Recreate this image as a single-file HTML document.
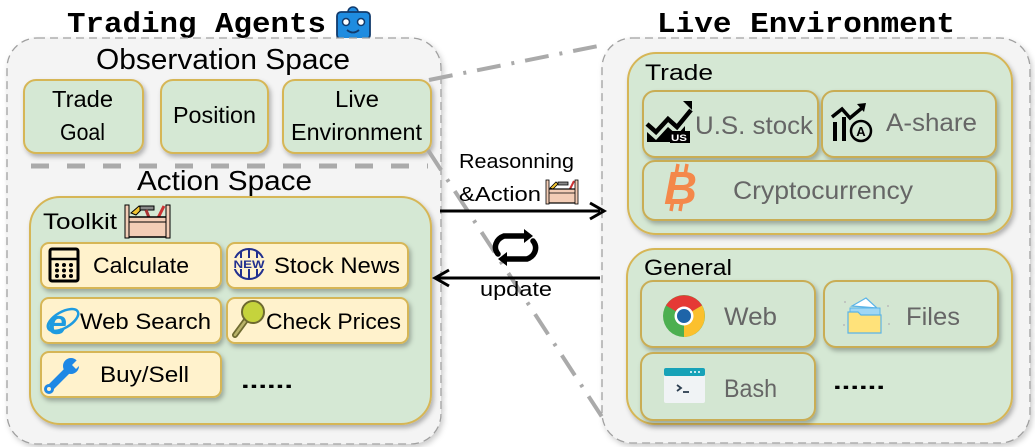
<!DOCTYPE html>
<html><head><meta charset="utf-8"><style>
html,body{margin:0;padding:0;background:#fff;}
svg{display:block;}
text{font-family:"Liberation Sans",sans-serif;}
.t{fill:#000;}
.g{fill:#666;}
.mono{font-family:"Liberation Mono",monospace;font-weight:bold;}
</style></head><body>
<svg width="1035" height="447" viewBox="0 0 1035 447" xmlns="http://www.w3.org/2000/svg">
<defs>
<filter id="sh" x="-10%" y="-10%" width="125%" height="125%">
<feDropShadow dx="2" dy="3" stdDeviation="2.5" flood-color="#000" flood-opacity="0.28"/>
</filter>
<filter id="sh2" x="-10%" y="-10%" width="125%" height="125%">
<feDropShadow dx="2" dy="3" stdDeviation="3" flood-color="#000" flood-opacity="0.2"/>
</filter>
</defs>

<!-- Titles -->
<text class="mono" x="67" y="32" font-size="29" textLength="259" lengthAdjust="spacingAndGlyphs">Trading Agents</text>
<text class="mono" x="657" y="32" font-size="29" textLength="298" lengthAdjust="spacingAndGlyphs">Live Environment</text>

<!-- robot -->
<g>
<path d="M348 12 a5 5 0 0 1 10 0" fill="#1f8ce0" stroke="#123a6b" stroke-width="1.5"/>
<rect x="337" y="12" width="33" height="27" rx="4" fill="#1f8ce0" stroke="#123a6b" stroke-width="1.8"/>
<circle cx="346" cy="22" r="3.5" fill="#fff" stroke="#123a6b" stroke-width="1.5"/>
<circle cx="361" cy="22" r="3.5" fill="#fff" stroke="#123a6b" stroke-width="1.5"/>
<path d="M347 30 q6 5 12 0" fill="none" stroke="#123a6b" stroke-width="1.8"/>
</g>

<!-- outer boxes -->
<rect x="7" y="38" width="434" height="406" rx="30" fill="#f4f4f4" stroke="#a0a0a0" stroke-width="1.3" stroke-dasharray="8 5" filter="url(#sh2)"/>
<rect x="602" y="38" width="428" height="405" rx="30" fill="#f4f4f4" stroke="#a0a0a0" stroke-width="1.3" stroke-dasharray="8 5" filter="url(#sh2)"/>

<!-- Observation Space -->
<text class="t" x="96" y="69" font-size="29" textLength="254" lengthAdjust="spacingAndGlyphs">Observation Space</text>

<rect x="24" y="80" width="119" height="73" rx="12" fill="#d5e8d4" stroke="#d6b656" stroke-width="2" filter="url(#sh)"/>
<rect x="161" y="80" width="107" height="73" rx="12" fill="#d5e8d4" stroke="#d6b656" stroke-width="2" filter="url(#sh)"/>
<rect x="283" y="80" width="148" height="73" rx="12" fill="#d5e8d4" stroke="#d6b656" stroke-width="2" filter="url(#sh)"/>
<text class="t" x="52" y="107" font-size="23" textLength="61" lengthAdjust="spacingAndGlyphs">Trade</text>
<text class="t" x="60" y="140" font-size="23" textLength="45" lengthAdjust="spacingAndGlyphs">Goal</text>
<text class="t" x="173" y="123" font-size="23" textLength="83" lengthAdjust="spacingAndGlyphs">Position</text>
<text class="t" x="335" y="107" font-size="23" textLength="44" lengthAdjust="spacingAndGlyphs">Live</text>
<text class="t" x="291" y="140" font-size="23" textLength="131" lengthAdjust="spacingAndGlyphs">Environment</text>

<!-- separator -->
<line x1="31" y1="166" x2="428" y2="166" stroke="#aaa" stroke-width="5" stroke-dasharray="18 18"/>

<text class="t" x="137" y="190" font-size="28" textLength="175" lengthAdjust="spacingAndGlyphs">Action Space</text>

<!-- Toolkit -->
<rect x="30" y="197" width="401" height="227" rx="30" fill="#d5e8d4" stroke="#d6b656" stroke-width="2" filter="url(#sh)"/>
<text class="t" x="43" y="229" font-size="22" textLength="74" lengthAdjust="spacingAndGlyphs">Toolkit</text>
<!-- toolbox icon -->
<g>
<path d="M131 213 l8 -7 l3 3 l-6 6 z" fill="#f2c533" stroke="#000" stroke-width="1"/>
<path d="M140 206 l14 0 l0 4 l-14 0z" fill="#888" stroke="#000" stroke-width="1"/>
<path d="M146 210 l4 10" stroke="#a33" stroke-width="3"/>
<path d="M158 218 l6 -12" stroke="#c33" stroke-width="3"/>
<rect x="126" y="217" width="43" height="20" fill="#f3cdb6" stroke="#000" stroke-width="1.5"/>
<line x1="126" y1="222" x2="169" y2="222" stroke="#000" stroke-width="1"/>
<rect x="125" y="205" width="4" height="33" fill="#f3cdb6" stroke="#000" stroke-width="1"/>
<rect x="166" y="205" width="4" height="33" fill="#f3cdb6" stroke="#000" stroke-width="1"/>
</g>

<!-- tool buttons -->
<g fill="#fff2cc" stroke="#d6b656" stroke-width="2" filter="url(#sh)">
<rect x="41" y="243" width="180" height="45" rx="8"/>
<rect x="227" y="243" width="181" height="45" rx="8"/>
<rect x="41" y="298" width="180" height="45" rx="8"/>
<rect x="227" y="298" width="181" height="45" rx="8"/>
<rect x="41" y="352" width="180" height="45" rx="8"/>
</g>
<text class="t" x="93" y="273" font-size="22" textLength="96" lengthAdjust="spacingAndGlyphs">Calculate</text>
<text class="t" x="274" y="273" font-size="22" textLength="126" lengthAdjust="spacingAndGlyphs">Stock News</text>
<text class="t" x="80" y="329" font-size="22" textLength="131" lengthAdjust="spacingAndGlyphs">Web Search</text>
<text class="t" x="266" y="329" font-size="22" textLength="135" lengthAdjust="spacingAndGlyphs">Check Prices</text>
<text class="t" x="100" y="382" font-size="22" textLength="89" lengthAdjust="spacingAndGlyphs">Buy/Sell</text>
<text class="t" x="241" y="388" font-size="22" font-weight="bold" textLength="52" lengthAdjust="spacingAndGlyphs">......</text>

<!-- calculator icon -->
<g>
<rect x="50" y="249" width="28" height="32" rx="2" fill="none" stroke="#000" stroke-width="3"/>
<line x1="50" y1="259" x2="78" y2="259" stroke="#000" stroke-width="2.5"/>
<g fill="#000">
<circle cx="57" cy="265" r="2"/><circle cx="64" cy="265" r="2"/><circle cx="71" cy="265" r="2"/>
<circle cx="57" cy="270.5" r="2"/><circle cx="64" cy="270.5" r="2"/><circle cx="71" cy="270.5" r="2"/>
<circle cx="57" cy="276" r="2"/><circle cx="64" cy="276" r="2"/><circle cx="71" cy="276" r="2"/>
</g>
</g>
<!-- NEW globe -->
<g>
<circle cx="249" cy="264" r="15" fill="none" stroke="#22308f" stroke-width="2"/>
<path d="M241 252 v24 M249 249 v30 M257 252 v24" stroke="#22308f" stroke-width="2"/>
<rect x="233" y="258" width="32" height="11" fill="#fff2cc"/>
<text x="249" y="268" font-size="11" font-weight="bold" fill="#22308f" text-anchor="middle" textLength="31" lengthAdjust="spacingAndGlyphs">NEW</text>
</g>
<!-- IE icon -->
<g>
<ellipse cx="63" cy="320" rx="17" ry="8" fill="none" stroke="#1e9be0" stroke-width="2.5" transform="rotate(-30 63 320)"/>
<text x="48" y="334" font-size="34" font-style="italic" fill="#1e9be0" font-weight="bold">e</text>
</g>
<!-- magnifier -->
<g>
<line x1="246" y1="320" x2="235" y2="335" stroke="#6e6a30" stroke-width="6" stroke-linecap="round"/>
<line x1="246" y1="320" x2="235" y2="335" stroke="#b9b36a" stroke-width="2.5" stroke-linecap="round"/>
<circle cx="253" cy="312" r="11" fill="#c5d33c" stroke="#6e6a30" stroke-width="2"/>
</g>
<!-- wrench -->
<g>
<line x1="50" y1="388" x2="70" y2="368" stroke="#1e88e5" stroke-width="7" stroke-linecap="round"/>
<circle cx="71" cy="366" r="8" fill="#1e88e5"/>
<path d="M72 365 l10 -10 l4 4 l-10 10z" fill="#fff2cc"/>
<circle cx="49" cy="389" r="5" fill="#1e88e5"/>
<circle cx="49" cy="389" r="2" fill="#fff2cc"/>
</g>

<!-- dash-dot connectors -->
<line x1="429" y1="80" x2="603" y2="45" stroke="#aaa" stroke-width="4" stroke-dasharray="24 11 3 11"/>
<line x1="428" y1="150" x2="604" y2="420" stroke="#aaa" stroke-width="4" stroke-dasharray="24 11 3 11"/>

<!-- arrows -->
<text class="t" x="459" y="168" font-size="20" textLength="115" lengthAdjust="spacingAndGlyphs">Reasonning</text>
<text class="t" x="459" y="201" font-size="20" textLength="82" lengthAdjust="spacingAndGlyphs">&amp;Action</text>
<g>
<path d="M550 188 l6 -6 l2 2 l-5 5z" fill="#f2c533" stroke="#000" stroke-width="0.8"/>
<path d="M558 182 h10 v3 h-10z" fill="#888" stroke="#000" stroke-width="0.8"/>
<path d="M570 189 l4 -8" stroke="#c33" stroke-width="2"/>
<rect x="547" y="189" width="30" height="14" fill="#f3cdb6" stroke="#000" stroke-width="1.2"/>
<line x1="547" y1="193" x2="577" y2="193" stroke="#000" stroke-width="0.8"/>
<rect x="546" y="180" width="3" height="24" fill="#f3cdb6" stroke="#000" stroke-width="0.8"/>
<rect x="575" y="180" width="3" height="24" fill="#f3cdb6" stroke="#000" stroke-width="0.8"/>
</g>
<line x1="440" y1="211" x2="600" y2="211" stroke="#000" stroke-width="3"/>
<path d="M590 203 L604 211 L590 219" fill="none" stroke="#000" stroke-width="3"/>

<line x1="438" y1="278" x2="600" y2="278" stroke="#000" stroke-width="3"/>
<path d="M449 270 L435 278 L449 286" fill="none" stroke="#000" stroke-width="3"/>
<text class="t" x="480" y="296" font-size="20" textLength="72" lengthAdjust="spacingAndGlyphs">update</text>

<!-- cycle icon -->
<g fill="none" stroke="#000" stroke-width="5.5" stroke-linecap="round">
<path d="M498 254 a14 12 0 0 1 6 -18 h22"/>
<path d="M533 241 a14 12 0 0 1 -6 18 h-22"/>
</g>
<path d="M524 229 l9 7 l-9 7z" fill="#000"/>
<path d="M507 252 l-9 7 l9 7z" fill="#000"/>

<!-- Trade box -->
<rect x="628" y="53" width="384" height="181" rx="28" fill="#d5e8d4" stroke="#d6b656" stroke-width="2" filter="url(#sh)"/>
<text class="t" x="645" y="80" font-size="22" textLength="68" lengthAdjust="spacingAndGlyphs">Trade</text>
<g fill="#d3e6d2" stroke="#c9ad55" stroke-width="2" filter="url(#sh)">
<rect x="643" y="91" width="175" height="66" rx="12"/>
<rect x="822" y="91" width="174" height="66" rx="12"/>
<rect x="643" y="161" width="353" height="59" rx="12"/>
</g>
<text class="g" x="695" y="134" font-size="25" textLength="118" lengthAdjust="spacingAndGlyphs">U.S. stock</text>
<text class="g" x="886" y="131" font-size="25" textLength="91" lengthAdjust="spacingAndGlyphs">A-share</text>
<text class="g" x="733" y="199" font-size="25" textLength="180" lengthAdjust="spacingAndGlyphs">Cryptocurrency</text>

<!-- US stock icon -->
<g>
<path d="M647 124 l9 8 l12 -13 l9 8 l14 -17" fill="none" stroke="#000" stroke-width="4.5"/>
<path d="M683 101 l9 0 l0 9z" fill="#000"/>
<path d="M647 132 l9 8 l12 -13 l9 8 l8 -9 v16 h-38z" fill="#000"/>
<rect x="670" y="131" width="20" height="12" fill="#000"/>
<text x="671" y="141" font-size="9" font-weight="bold" fill="#fff" textLength="16" lengthAdjust="spacingAndGlyphs">US</text>
</g>
<!-- A-share icon -->
<g>
<path d="M832 117 l10 -8 l8 9 l12 -10" fill="none" stroke="#000" stroke-width="3.5"/>
<path d="M857 104 l9 -1 l-2 9z" fill="#000"/>
<rect x="833" y="122" width="4" height="19" fill="#000"/>
<rect x="842" y="117" width="4" height="24" fill="#000"/>
<circle cx="861" cy="131" r="10" fill="#d3e6d2" stroke="#000" stroke-width="2.5"/>
<text x="861" y="136" font-size="13" font-weight="bold" fill="#000" text-anchor="middle">A</text>
</g>
<!-- bitcoin -->
<g>
<line x1="678" y1="164" x2="676" y2="175" stroke="#f4884a" stroke-width="3.5"/>
<line x1="687" y1="164" x2="685" y2="175" stroke="#f4884a" stroke-width="3.5"/>
<line x1="673" y1="200" x2="671" y2="211" stroke="#f4884a" stroke-width="3.5"/>
<line x1="682" y1="200" x2="680" y2="211" stroke="#f4884a" stroke-width="3.5"/>
<text x="664" y="204" font-size="46" font-weight="bold" font-style="italic" fill="#f4884a" textLength="33" lengthAdjust="spacingAndGlyphs">B</text>
</g>

<!-- General box -->
<rect x="627" y="249" width="385" height="175" rx="28" fill="#d5e8d4" stroke="#d6b656" stroke-width="2" filter="url(#sh)"/>
<text class="t" x="644" y="275" font-size="22" textLength="88" lengthAdjust="spacingAndGlyphs">General</text>
<g fill="#d3e6d2" stroke="#c9ad55" stroke-width="2" filter="url(#sh)">
<rect x="641" y="281" width="174" height="66" rx="12"/>
<rect x="824" y="281" width="174" height="66" rx="12"/>
<rect x="641" y="353" width="174" height="67" rx="12"/>
</g>
<text class="g" x="724" y="325" font-size="25" textLength="53" lengthAdjust="spacingAndGlyphs">Web</text>
<text class="g" x="906" y="325" font-size="25" textLength="54" lengthAdjust="spacingAndGlyphs">Files</text>
<text class="g" x="724" y="397" font-size="25" textLength="53" lengthAdjust="spacingAndGlyphs">Bash</text>
<text class="t" x="833" y="389" font-size="22" font-weight="bold" textLength="52" lengthAdjust="spacingAndGlyphs">......</text>

<!-- chrome -->
<g>
<circle cx="684" cy="316" r="21" fill="#4caf50"/>
<path d="M684 316 L666 305.5 A21 21 0 0 1 702 305.5 Z" fill="#e53935"/>
<path d="M684 316 L702 305.5 A21 21 0 0 1 684 337 Z" fill="#fbc02d"/>
<circle cx="684" cy="316" r="9.5" fill="#fff"/>
<circle cx="684" cy="316" r="7" fill="#1e64a8"/>
</g>
<!-- files -->
<g>
<path d="M852 306 l14 -8 l11 10 z" fill="#fff" stroke="#5ab4e8" stroke-width="1.2"/>
<path d="M850 308 h30 v8 h-30z" fill="#9fd7f5" stroke="#5ab4e8" stroke-width="1"/>
<path d="M848 312 h10 l3 3 h20 v18 h-33z" fill="#ffe27a" stroke="#5ab4e8" stroke-width="1.2"/>
<g fill="#bbb"><circle cx="845" cy="302" r="1"/><circle cx="888" cy="306" r="1"/><circle cx="844" cy="325" r="1"/><circle cx="889" cy="324" r="1"/></g>
</g>
<!-- bash -->
<g>
<rect x="664" y="368" width="41" height="35" rx="2" fill="#f0f3f5"/>
<rect x="664" y="368" width="41" height="8" rx="2" fill="#17a2b8"/>
<g fill="#fff"><circle cx="691" cy="372" r="1"/><circle cx="695" cy="372" r="1"/><circle cx="699" cy="372" r="1"/></g>
<path d="M677 385 l4 3 l-4 3" fill="none" stroke="#2c3e50" stroke-width="1.8"/>
<line x1="683" y1="392" x2="689" y2="392" stroke="#2c3e50" stroke-width="1.8"/>
</g>
</svg>
</body></html>
